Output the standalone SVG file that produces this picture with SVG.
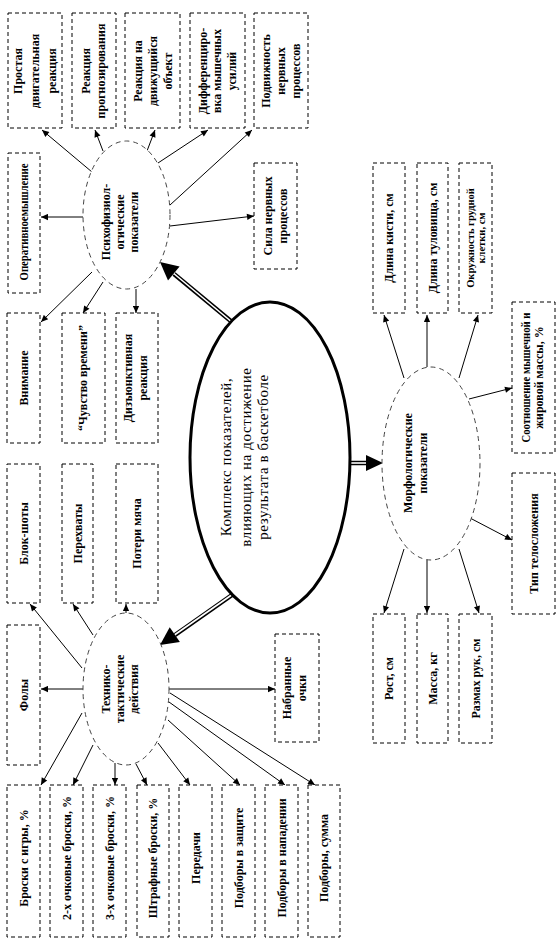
<svg xmlns="http://www.w3.org/2000/svg" width="560" height="950" viewBox="0 0 560 950">
<style>
.bx{fill:#fff;stroke:#000;stroke-width:1;stroke-dasharray:4 3}
.el{fill:#fff;stroke:#444;stroke-width:1;stroke-dasharray:5 4}
.t{font-family:"Liberation Serif","Times New Roman",serif;font-weight:bold;font-size:12px;text-anchor:middle;fill:#000}
.s{font-size:10.5px}
.c{font-family:"Liberation Serif","Times New Roman",serif;font-size:15px;text-anchor:middle;fill:#000;letter-spacing:0.6px}
.ln{stroke:#000;stroke-width:1;fill:none;marker-end:url(#ah)}
.dbl{stroke:#000;stroke-width:4.5;fill:none}
.dbw{stroke:#fff;stroke-width:1.6;fill:none}
</style>
<defs>
<marker id="ah" viewBox="0 0 10 10" refX="10" refY="5" markerWidth="8" markerHeight="7" orient="auto" markerUnits="userSpaceOnUse">
<path d="M0,0.5 L10,5 L0,9.5 z" fill="#000"/>
</marker>
</defs>
<rect width="560" height="950" fill="#fff"/>

<g id="connectors">
<line class="ln" x1="92" y1="172" x2="42" y2="130"/>
<line class="ln" x1="103" y1="151" x2="95" y2="130"/>
<line class="ln" x1="147" y1="151" x2="155" y2="130"/>
<line class="ln" x1="158" y1="163" x2="208" y2="130"/>
<line class="ln" x1="170" y1="205" x2="252" y2="130"/>
<line class="ln" x1="83" y1="217" x2="41" y2="217"/>
<line class="ln" x1="170" y1="226" x2="254" y2="216"/>
<line class="ln" x1="92" y1="272" x2="41" y2="322"/>
<line class="ln" x1="103" y1="282" x2="83" y2="313"/>
<line class="ln" x1="136" y1="289" x2="136" y2="313"/>

<line class="ln" x1="82" y1="668" x2="30" y2="604"/>
<line class="ln" x1="93" y1="635" x2="73" y2="604"/>
<line class="ln" x1="126" y1="613" x2="126" y2="604"/>
<line class="ln" x1="83" y1="689" x2="41" y2="689"/>
<line class="ln" x1="169" y1="689" x2="275" y2="689"/>
<line class="ln" x1="82" y1="713" x2="41" y2="785"/>
<line class="ln" x1="93" y1="745" x2="73" y2="785"/>
<line class="ln" x1="115" y1="763" x2="115" y2="785"/>
<line class="ln" x1="136" y1="764" x2="147" y2="785"/>
<line class="ln" x1="158" y1="743" x2="190" y2="785"/>
<line class="ln" x1="168" y1="720" x2="240" y2="785"/>
<line class="ln" x1="169" y1="702" x2="285" y2="785"/>
<line class="ln" x1="170" y1="693" x2="315" y2="785"/>

<line class="ln" x1="404" y1="378" x2="384" y2="315"/>
<line class="ln" x1="427" y1="367" x2="427" y2="315"/>
<line class="ln" x1="459" y1="378" x2="478" y2="315"/>
<line class="ln" x1="469" y1="399" x2="512" y2="388"/>
<line class="ln" x1="470" y1="518" x2="512" y2="540"/>
<line class="ln" x1="404" y1="549" x2="384" y2="613"/>
<line class="ln" x1="427" y1="560" x2="427" y2="613"/>
<line class="ln" x1="459" y1="549" x2="479" y2="613"/>

<line class="dbl" x1="232" y1="322" x2="174" y2="274"/>
<line class="dbw" x1="233" y1="323" x2="172" y2="272"/>
<polygon points="160,262 179.6,266.6 168,280.4" fill="#000"/>
<line class="dbl" x1="232" y1="595" x2="175" y2="635"/>
<line class="dbw" x1="233" y1="594" x2="173" y2="636"/>
<polygon points="160,645 179.9,642.1 169.7,627.3" fill="#000"/>
<line class="dbl" x1="349" y1="463" x2="367" y2="463"/>
<line class="dbw" x1="348" y1="463" x2="368" y2="463"/>
<polygon points="383,463 366,455 366,471" fill="#000"/>
</g>

<g id="center">
<ellipse cx="270" cy="457.5" rx="80" ry="155.5" fill="none" stroke="#000" stroke-width="3"/>
<text class="c" transform="translate(245 457) rotate(-90)"><tspan x="0" y="-14">Комплекс показателей,</tspan><tspan x="0" y="6">влияющих на достижение</tspan><tspan x="0" y="23">результата в баскетболе</tspan></text>
</g>

<g id="psycho">
<ellipse class="el" cx="126.5" cy="215" rx="43.5" ry="74"/>
<text class="t" transform="translate(119 222) rotate(-90)"><tspan x="0" y="-9">Психофизиол-</tspan><tspan x="0" y="5">огические</tspan><tspan x="0" y="19">показатели</tspan></text>
</g>
<g id="tech">
<ellipse class="el" cx="126" cy="689" rx="43" ry="76"/>
<text class="t" transform="translate(119 689) rotate(-90)"><tspan x="0" y="-9">Технико-</tspan><tspan x="0" y="5">тактические</tspan><tspan x="0" y="19">действия</tspan></text>
</g>
<g id="morph">
<ellipse class="el" cx="431" cy="463.5" rx="49" ry="96.5"/>
<text class="t" transform="translate(416 463) rotate(-90)"><tspan x="0" y="-4">Морфологические</tspan><tspan x="0" y="11">показатели</tspan></text>
</g>

<g id="n-prostaya"><rect class="bx" x="8" y="13" width="54" height="115"/>
<text class="t" transform="translate(35 71) rotate(-90)"><tspan x="0" y="-13">Простая</tspan><tspan x="0" y="4">двигательная</tspan><tspan x="0" y="21">реакция</tspan></text></g>
<g id="n-prognoz"><rect class="bx" x="72" y="13" width="44" height="115"/>
<text class="t" transform="translate(94 71) rotate(-90)"><tspan x="0" y="-4">Реакция</tspan><tspan x="0" y="11">прогнозирования</tspan></text></g>
<g id="n-dvizh"><rect class="bx" x="125" y="13" width="55" height="115"/>
<text class="t" transform="translate(152.5 71) rotate(-90)"><tspan x="0" y="-11">Реакция на</tspan><tspan x="0" y="4">движущийся</tspan><tspan x="0" y="19">объект</tspan></text></g>
<g id="n-diff"><rect class="bx" x="190" y="13" width="55" height="115"/>
<text class="t" transform="translate(217.5 71) rotate(-90)"><tspan x="0" y="-11">Дифференциро-</tspan><tspan x="0" y="3">вка мышечных</tspan><tspan x="0" y="18">усилий</tspan></text></g>
<g id="n-podv"><rect class="bx" x="254" y="13" width="54" height="115"/>
<text class="t" transform="translate(281 71) rotate(-90)"><tspan x="0" y="-11">Подвижность</tspan><tspan x="0" y="4">нервных</tspan><tspan x="0" y="19">процессов</tspan></text></g>

<g id="n-oper"><rect class="bx" x="8" y="153" width="32" height="140"/>
<text class="t" font-size="11" transform="translate(24 222) rotate(-90)" x="0" y="4" textLength="117" lengthAdjust="spacingAndGlyphs">Оперативноемышление</text></g>
<g id="n-sila"><rect class="bx" x="254" y="163" width="43" height="106"/>
<text class="t" transform="translate(275.5 216) rotate(-90)"><tspan x="0" y="-4">Сила нервных</tspan><tspan x="0" y="11">процессов</tspan></text></g>

<g id="n-vnim"><rect class="bx" x="7" y="313" width="33" height="130"/>
<text class="t" transform="translate(23.5 378) rotate(-90)" x="0" y="4">Внимание</text></g>
<g id="n-chuv"><rect class="bx" x="62" y="313" width="43" height="130"/>
<text class="t" transform="translate(83 378) rotate(-90)" x="0" y="4">“Чувство времени”</text></g>
<g id="n-dizj"><rect class="bx" x="116" y="313" width="42" height="130"/>
<text class="t" transform="translate(137 378) rotate(-90)"><tspan x="0" y="-5">Дизъюнктивная</tspan><tspan x="0" y="10">реакция</tspan></text></g>

<g id="n-blok"><rect class="bx" x="7" y="464" width="33" height="139"/>
<text class="t" transform="translate(23.5 533.5) rotate(-90)" x="0" y="4">Блок-шоты</text></g>
<g id="n-pereh"><rect class="bx" x="62" y="464" width="31" height="139"/>
<text class="t" transform="translate(77.5 533.5) rotate(-90)" x="0" y="4">Перехваты</text></g>
<g id="n-poteri"><rect class="bx" x="116" y="464" width="42" height="139"/>
<text class="t" transform="translate(137 533.5) rotate(-90)" x="0" y="4">Потери мяча</text></g>

<g id="n-foly"><rect class="bx" x="7" y="625" width="33" height="140"/>
<text class="t" transform="translate(23.5 695) rotate(-90)" x="0" y="4">Фолы</text></g>
<g id="n-ochki"><rect class="bx" x="275" y="634" width="44" height="108"/>
<text class="t" font-size="13" transform="translate(295 688) rotate(-90)"><tspan x="0" y="-4">Набранные</tspan><tspan x="0" y="11">очки</tspan></text></g>

<g id="n-b1"><rect class="bx" x="7" y="785" width="33" height="152"/>
<text class="t" transform="translate(23.5 858) rotate(-90)" x="0" y="4">Броски с игры, %</text></g>
<g id="n-b2"><rect class="bx" x="50" y="785" width="33" height="152"/>
<text class="t" transform="translate(66.5 858) rotate(-90)" x="0" y="4">2-х очковые броски, %</text></g>
<g id="n-b3"><rect class="bx" x="93" y="785" width="33" height="152"/>
<text class="t" transform="translate(109.5 858) rotate(-90)" x="0" y="4">3-х очковые броски, %</text></g>
<g id="n-b4"><rect class="bx" x="137" y="785" width="32" height="152"/>
<text class="t" transform="translate(153 858) rotate(-90)" x="0" y="4">Штрафные броски, %</text></g>
<g id="n-b5"><rect class="bx" x="179" y="785" width="33" height="152"/>
<text class="t" transform="translate(195.5 858) rotate(-90)" x="0" y="4">Передачи</text></g>
<g id="n-b6"><rect class="bx" x="222" y="785" width="33" height="152"/>
<text class="t" transform="translate(238.5 858) rotate(-90)" x="0" y="4">Подборы в защите</text></g>
<g id="n-b7"><rect class="bx" x="265" y="785" width="33" height="152"/>
<text class="t" transform="translate(281.5 858) rotate(-90)" x="0" y="4">Подборы в нападении</text></g>
<g id="n-b8"><rect class="bx" x="308" y="785" width="32" height="152"/>
<text class="t" transform="translate(324 858) rotate(-90)" x="0" y="4">Подборы, сумма</text></g>

<g id="n-kist"><rect class="bx" x="373" y="163" width="32" height="150"/>
<text class="t" transform="translate(389 238) rotate(-90)" x="0" y="4">Длина кисти, см</text></g>
<g id="n-tul"><rect class="bx" x="417" y="163" width="31" height="150"/>
<text class="t" transform="translate(432.5 238) rotate(-90)" x="0" y="4">Длина туловища, см</text></g>
<g id="n-okr"><rect class="bx" x="459" y="163" width="33" height="150"/>
<text class="t s" transform="translate(475.5 238) rotate(-90)"><tspan x="0" y="-2">Окружность грудной</tspan><tspan x="0" y="9">клетки, см</tspan></text></g>
<g id="n-sootn"><rect class="bx" x="512" y="302" width="43" height="151"/>
<text class="t" font-size="10.5" transform="translate(533.5 377.5) rotate(-90)"><tspan x="-65" y="-4" text-anchor="start" textLength="130" lengthAdjust="spacingAndGlyphs">Соотношение мышечной и</tspan><tspan x="0" y="9">жировой массы, %</tspan></text></g>
<g id="n-tip"><rect class="bx" x="512" y="473" width="43" height="141"/>
<text class="t" transform="translate(534 543.5) rotate(-90)" x="0" y="4">Тип телосложения</text></g>

<g id="n-rost"><rect class="bx" x="373" y="614" width="32" height="129"/>
<text class="t" transform="translate(389 678.5) rotate(-90)" x="0" y="4">Рост, см</text></g>
<g id="n-massa"><rect class="bx" x="417" y="614" width="31" height="129"/>
<text class="t" transform="translate(432.5 678.5) rotate(-90)" x="0" y="4">Масса, кг</text></g>
<g id="n-razmah"><rect class="bx" x="459" y="614" width="33" height="129"/>
<text class="t" transform="translate(475.5 678.5) rotate(-90)" x="0" y="4">Размах рук, см</text></g>
</svg>
